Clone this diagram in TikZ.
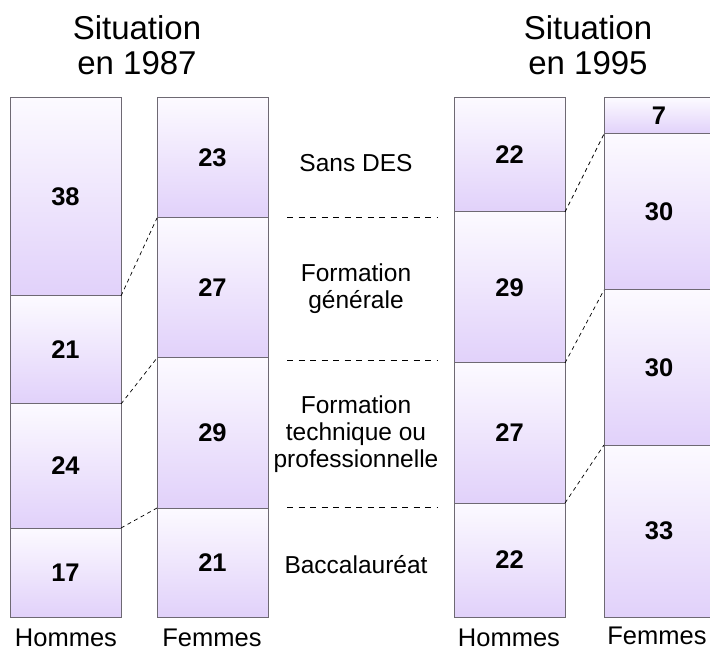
\documentclass[tikz,border=0pt]{standalone}
\usepackage{fontspec}
\setmainfont{Liberation Sans}
\definecolor{celltop}{RGB}{252,250,255}
\definecolor{cellbot}{RGB}{225,209,250}
\definecolor{cellline}{RGB}{110,105,115}
\begin{document}
\begin{tikzpicture}[x=1pt,y=-1pt,
  cell/.style={draw=cellline, line width=1pt, top color=celltop, bottom color=cellbot,
    minimum width=111pt, inner sep=0pt, outer sep=0pt, anchor=north west,
    font=\bfseries\fontsize{25.5}{25.5}\selectfont},
  lab/.style={align=center, inner sep=0pt, font=\fontsize{24.5}{27}\selectfont},
  foot/.style={inner sep=0pt, font=\fontsize{25.5}{27}\selectfont},
  title/.style={align=center, inner sep=0pt, font=\fontsize{33}{35}\selectfont},
  link/.style={dash pattern=on 4pt off 3.5pt, line width=0.7pt},
  sep/.style={dash pattern=on 6pt off 5.5pt, line width=0.8pt}]
\useasboundingbox (0,0) rectangle (710,652);
\clip (0,0) rectangle (710,652);
% titles
\node[title] (t1) at (137,45) {Situation\\en 1987};
\node[title] (t2) at (588,45) {Situation\\en 1995};
% 1987 Hommes
\node[cell, minimum height=198pt] (lh1) at (10,98) {38};
\node[cell, minimum height=108pt] (lh2) at (10,296) {21};
\node[cell, minimum height=124pt] (lh3) at (10,404) {24};
\node[cell, minimum height=89pt]  (lh4) at (10,528) {17};
% 1987 Femmes
\node[cell, minimum height=120pt] (lf1) at (157,98) {23};
\node[cell, minimum height=140pt] (lf2) at (157,218) {27};
\node[cell, minimum height=150pt] (lf3) at (157,358) {29};
\node[cell, minimum height=109pt] (lf4) at (157,508) {21};
% 1995 Hommes
\node[cell, minimum height=114pt] (rh1) at (454,98) {22};
\node[cell, minimum height=151pt] (rh2) at (454,212) {29};
\node[cell, minimum height=140pt] (rh3) at (454,363) {27};
\node[cell, minimum height=114pt] (rh4) at (454,503) {22};
% 1995 Femmes
\node[cell, minimum width=110pt, minimum height=36pt]  (rf1) at (604,98) {7};
\node[cell, minimum width=110pt, minimum height=156pt] (rf2) at (604,134) {30};
\node[cell, minimum width=110pt, minimum height=155pt] (rf3) at (604,290) {30};
\node[cell, minimum width=110pt, minimum height=172pt] (rf4) at (604,445) {33};
% connectors
\draw[link] (lh1.south east) -- (lf1.south west);
\draw[link] (lh2.south east) -- (lf2.south west);
\draw[link] (lh3.south east) -- (lf3.south west);
\draw[link] (rh1.south east) -- (rf1.south west);
\draw[link] (rh2.south east) -- (rf2.south west);
\draw[link] (rh3.south east) -- (rf3.south west);
% middle separators
\coordinate (s1a) at (287,217); \coordinate (s1b) at (437,217);
\coordinate (s2a) at (287,360); \coordinate (s2b) at (437,360);
\coordinate (s3a) at (287,507); \coordinate (s3b) at (437,507);
\draw[sep] (s1a) -- (s1b);
\draw[sep] (s2a) -- (s2b);
\draw[sep] (s3a) -- (s3b);
% middle labels
\node[lab] (m1) at (356,163) {Sans DES};
\node[lab] (m2) at (356,289) {Formation\\générale};
\node[lab] (m3) at (356,434) {Formation\\technique ou\\professionnelle};
\node[lab] (m4) at (356,565) {Baccalauréat};
% bottom labels
\node[foot] (b1) at (66,638) {Hommes};
\node[foot] (b2) at (212,638) {Femmes};
\node[foot] (b3) at (509,638) {Hommes};
\node[foot] (b4) at (657,636) {Femmes};
\end{tikzpicture}
\end{document}
